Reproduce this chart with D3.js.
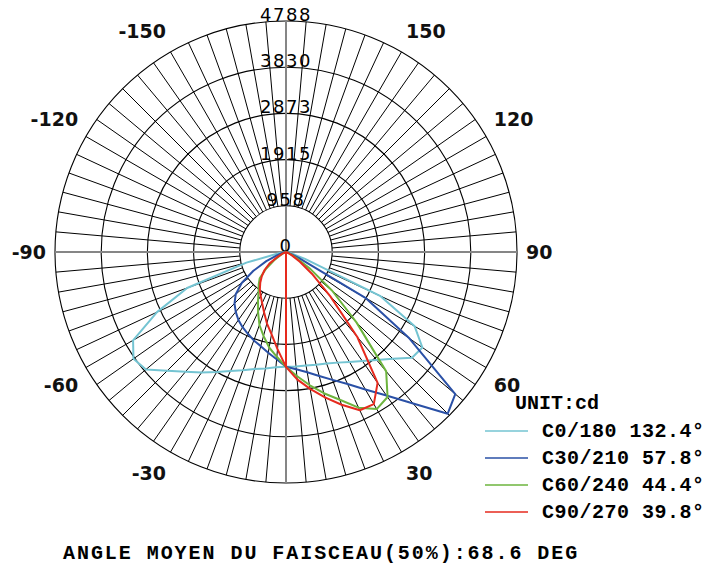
<!DOCTYPE html>
<html>
<head>
<meta charset="utf-8">
<script src="https://cdn.jsdelivr.net/npm/d3@7"></script>
<style>
  body { margin: 0; background: #fff; }
</style>
</head>
<body>
<svg id="chart" width="710" height="578"></svg>
<script>
// gamma angles (0 = straight down, positive to the right)
const gammas = [-90, -85, -80, -75, -70, -65, -60, -55, -50, -45, -40, -35, -30, -25, -20, -15, -10, -5,
  0, 5, 10, 15, 20, 25, 30, 35, 40, 45, 50, 55, 60, 65, 70, 75, 80, 85, 90];

// intensities in cd, one per gamma
const c0_180 = [0, 40, 150, 850, 2180, 2950, 3660, 3860, 3790, 3480, 3240, 3050, 2870, 2720, 2610, 2510, 2450, 2400,
  2380, 2380, 2390, 2420, 2460, 2530, 2630, 2760, 2920, 3130, 3410, 3450, 3080, 2150, 420, 100, 30, 10, 0];
const c30_210 = [0, 10, 30, 80, 200, 450, 780, 1120, 1360, 1510, 1620, 1720, 1800, 1870, 1950, 2020, 2120, 2230,
  2380, 2440, 2530, 2660, 2820, 3020, 3290, 3630, 4100, 4740, 4580, 3120, 1900, 300, 80, 30, 10, 0, 0];
const c60_240 = [0, 0, 0, 10, 20, 60, 150, 300, 540, 770, 880, 990, 1160, 1370, 1610, 1800, 2010, 2180,
  2380, 2580, 2800, 3030, 3260, 3560, 3760, 3670, 3230, 2070, 1250, 620, 250, 100, 30, 0, 0, 0, 0];
const c90_270 = [0, 0, 0, 10, 20, 80, 200, 420, 580, 710, 830, 945, 1050, 1170, 1330, 1530, 1730, 2020,
  2380, 2650, 2880, 3120, 3370, 3620, 3640, 3310, 2300, 1300, 700, 350, 150, 50, 10, 0, 0, 0, 0];

const seriesLabels = ["C0/180 132.4°", "C30/210 57.8°", "C60/240 44.4°", "C90/270 39.8°"];
const seriesColors = ["#74c4d2", "#2a50a6", "#6db43e", "#e62a1e"];
const ringValues = [0, 958, 1915, 2873, 3830, 4788];
const angleTicks = [-150, -120, -90, -60, -30, 30, 60, 90, 120, 150];
const unitLabel = "UNIT:cd";
const footer = "ANGLE MOYEN DU FAISCEAU(50%):68.6 DEG";

const CX = 286, CY = 252, R = 231;
const svg = d3.select("#chart");
const g = svg.append("g").attr("transform", `translate(${CX},${CY})`);

const rScale = d3.scaleLinear().domain([0, d3.max(ringValues)]).range([0, R]);
// d3 radial angle: clockwise from 12 o'clock; gamma: from 6 o'clock towards the right
const toRad = gamma => (180 - gamma) * Math.PI / 180;
const px = (gamma, r) => [r * Math.sin(toRad(gamma)), -r * Math.cos(toRad(gamma))];

const innerR = rScale(ringValues[1]);

// radial spokes every 5 degrees
const spokes = d3.range(0, 360, 5).filter(a => a % 90 !== 0);
g.append("g")
  .selectAll("line")
  .data(spokes)
  .join("line")
  .attr("x1", a => px(a, innerR)[0])
  .attr("y1", a => px(a, innerR)[1])
  .attr("x2", a => px(a, R)[0])
  .attr("y2", a => px(a, R)[1])
  .attr("stroke", "#000")
  .attr("stroke-width", 1);

// rings
g.append("g")
  .selectAll("circle")
  .data(ringValues.slice(1))
  .join("circle")
  .attr("r", d => rScale(d))
  .attr("fill", "none")
  .attr("stroke", "#000")
  .attr("stroke-width", 1.1);

// gray main axes
g.append("g")
  .selectAll("line")
  .data([0, 90])
  .join("line")
  .attr("x1", a => px(a, R)[0])
  .attr("y1", a => px(a, R)[1])
  .attr("x2", a => px(a + 180, R)[0])
  .attr("y2", a => px(a + 180, R)[1])
  .attr("stroke", "#868686")
  .attr("stroke-width", 2);

// ring labels along the top axis
g.append("g")
  .selectAll("text")
  .data(ringValues)
  .join("text")
  .attr("x", 0)
  .attr("y", d => -rScale(d))
  .attr("text-anchor", "middle")
  .attr("font-family", "DejaVu Sans")
  .attr("font-size", 18)
  .attr("letter-spacing", 1.5)
  .attr("fill", "#000")
  .text(d => d);

// angle labels
g.append("g")
  .selectAll("text")
  .data(angleTicks)
  .join("text")
  .attr("x", a => px(a, 240)[0])
  .attr("y", a => {
    const c = Math.round(Math.cos(a * Math.PI / 180) * 100);
    return px(a, 240)[1] + 7 + Math.sign(c) * 13;
  })
  .attr("text-anchor", a => (a > 0 ? "start" : "end"))
  .attr("font-family", "DejaVu Sans")
  .attr("font-weight", "bold")
  .attr("font-size", 19)
  .attr("fill", "#111")
  .text(a => a);

// curves: each half starts at the centre and goes out from nadir
const series = [c0_180, c30_210, c60_240, c90_270];
const line = d3.lineRadial()
  .angle(d => toRad(d[0]))
  .radius(d => rScale(d[1]));

const zeroIdx = gammas.indexOf(0);
series.forEach((vals, i) => {
  const pts = gammas.map((gm, j) => [gm, vals[j]]);
  const right = [[0, 0]].concat(pts.slice(zeroIdx));
  const left = [[0, 0]].concat(pts.slice(0, zeroIdx + 1).reverse());
  [right, left].forEach(half => {
    g.append("path")
      .attr("d", line(half))
      .attr("fill", "none")
      .attr("stroke", seriesColors[i])
      .attr("stroke-width", 2)
      .attr("stroke-linejoin", "round");
  });
});

// legend
const mono = "'Courier New', 'Nimbus Mono PS', 'Nimbus Mono L', FreeMono, 'Liberation Mono', monospace";
svg.append("text")
  .attr("x", 515)
  .attr("y", 403)
  .attr("dominant-baseline", "central")
  .attr("font-family", mono)
  .attr("font-weight", "bold")
  .attr("font-size", 20)
  .text(unitLabel);

const legend = svg.append("g")
  .selectAll("g")
  .data(seriesLabels)
  .join("g")
  .attr("transform", (d, i) => `translate(485,${431 + i * 27})`);

legend.append("line")
  .attr("x1", 0)
  .attr("x2", 43)
  .attr("stroke", (d, i) => seriesColors[i])
  .attr("stroke-width", 1.5);

legend.append("text")
  .attr("x", 57)
  .attr("dominant-baseline", "central")
  .attr("font-family", mono)
  .attr("font-weight", "bold")
  .attr("font-size", 20)
  .attr("letter-spacing", 0.5)
  .text(d => d);

svg.append("text")
  .attr("x", 63)
  .attr("y", 553)
  .attr("dominant-baseline", "central")
  .attr("font-family", mono)
  .attr("font-weight", "bold")
  .attr("font-size", 20)
  .attr("letter-spacing", 1.95)
  .text(footer);
</script>
</body>
</html>
